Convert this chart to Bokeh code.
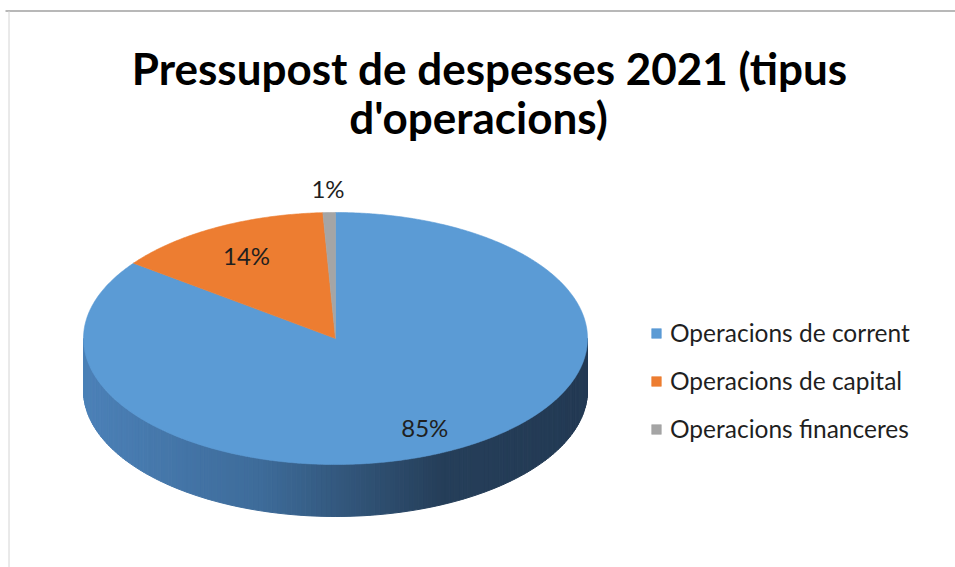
import numpy as np
from bokeh.plotting import figure
from bokeh.models import Range1d, Legend, LegendItem, ColumnDataSource
from bokeh.core.properties import value
from bokeh.embed import file_html
from bokeh.resources import INLINE

# ---- data ----
title_lines = ["Pressupost de despesses 2021 (tipus", "d'operacions)"]
categories = ["Operacions de corrent", "Operacions de capital", "Operacions financeres"]
shares = [85.2, 14.0, 0.8]
colors = ["#5B9BD5", "#ED7D31", "#A5A5A5"]

# ---- layout / style ----
W, H = 955, 567
CX, CY = 335.0, 338.0
RX, RY = 252.0, 126.0
DEPTH = 52.0
label_frac = [0.79, 0.75, 1.19]
side_stops_x = [83, 260, 440, 588]
side_stops_rgb = [(76, 129, 184), (62, 108, 154), (38, 63, 90), (35, 58, 84)]
FONT = "Lato"

p = figure(width=W, height=H, x_range=Range1d(0, W), y_range=Range1d(H, 0),
           x_axis_type=None, y_axis_type=None, toolbar_location=None,
           output_backend="svg", min_border=0, outline_line_color=None,
           background_fill_color="white", border_fill_color="white")
p.grid.visible = False

# frame lines
p.segment(x0=[5], y0=[10.5], x1=[W], y1=[10.5], line_color="#a0a0a0", line_width=1.5)
p.segment(x0=[8.5], y0=[10.5], x1=[8.5], y1=[H], line_color="#d4d4d4", line_width=1)

def pt(theta_deg, frac=1.0, dy=0.0):
    t = np.radians(theta_deg)
    return CX + RX * frac * np.sin(t), CY - RY * frac * np.cos(t) + dy

# ---- side (front) face with gradient strips ----
N = 160
thetas = np.linspace(90, 270, N + 1)
sx, sy, sc = [], [], []
def side_color(x):
    r = np.interp(x, side_stops_x, [c[0] for c in side_stops_rgb])
    g = np.interp(x, side_stops_x, [c[1] for c in side_stops_rgb])
    b = np.interp(x, side_stops_x, [c[2] for c in side_stops_rgb])
    return "#%02x%02x%02x" % (int(r), int(g), int(b))
for i in range(N):
    x0, y0 = pt(thetas[i]); x1, y1 = pt(thetas[i + 1])
    sx.append([x0, x1, x1, x0]); sy.append([y0, y1, y1 + DEPTH, y0 + DEPTH])
    sc.append(side_color((x0 + x1) / 2))
p.patches(xs=sx, ys=sy, fill_color=sc, line_color=sc, line_width=1)

# ---- top face slices ----
total = sum(shares)
starts = np.cumsum([0] + shares[:-1]) / total * 360
ends = np.cumsum(shares) / total * 360
xs, ys = [], []
for a0, a1 in zip(starts, ends):
    th = np.linspace(a0, a1, max(3, int((a1 - a0) * 2)))
    px, py = pt(th)
    xs.append([CX] + list(px)); ys.append([CY] + list(py))
src = ColumnDataSource(dict(xs=xs, ys=ys, color=colors, label=categories))
top = p.patches(xs="xs", ys="ys", source=src, fill_color="color", line_color="color", line_width=0.6)

# ---- data labels ----
mids = (starts + ends) / 2
lx, ly, lt = [], [], []
for m, f, v in zip(mids, label_frac, shares):
    x, y = pt(m, f)
    lx.append(x); ly.append(y); lt.append(f"{round(v)}%")
p.text(x=lx, y=ly, text=lt, text_font=value(FONT), text_font_size="24px",
       text_align="center", text_baseline="middle", text_color="#1f1f1f")

# ---- title ----
p.text(x=[489, 478], y=[67, 116], text=title_lines, text_font=value(FONT),
       text_font_size="44px", text_font_style="bold", text_align="center",
       text_baseline="alphabetic", text_color="#000000")

# ---- legend ----
items = [LegendItem(label=c, renderers=[top], index=i) for i, c in enumerate(categories)]
legend = Legend(items=items, location=(650, 124), padding=0, margin=0,
                border_line_color=None, background_fill_alpha=0,
                glyph_width=12, glyph_height=12, label_height=24, spacing=19,
                label_standoff=8, label_text_font=FONT, label_text_font_size="24.5px",
                label_text_color="#1f1f1f")
p.add_layout(legend)

open("out.html", "w").write(file_html(p, INLINE))
